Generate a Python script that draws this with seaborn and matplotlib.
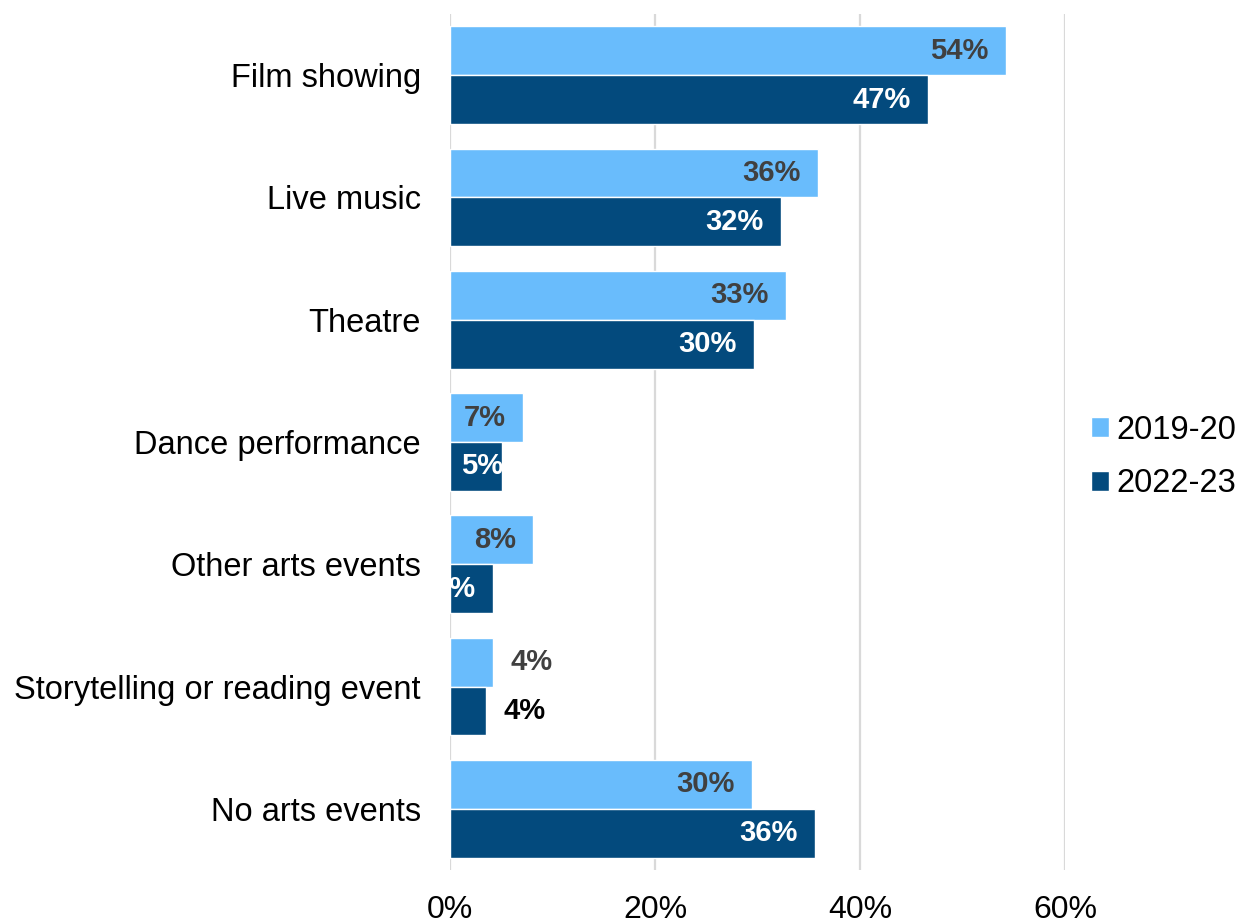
import matplotlib
matplotlib.use("Agg")
import matplotlib.pyplot as plt
import seaborn as sns
import pandas as pd

# Share of respondents attending each type of arts event
categories = [
    "Film showing",
    "Live music",
    "Theatre",
    "Dance performance",
    "Other arts events",
    "Storytelling or reading event",
    "No arts events",
]
series = ["2019-20", "2022-23"]
values_2019 = [54.2, 35.9, 32.8, 7.1, 8.1, 4.2, 29.5]
values_2022 = [46.6, 32.3, 29.7, 5.1, 4.2, 3.5, 35.6]
x_ticks = [0, 20, 40, 60]
x_tick_labels = ["0%", "20%", "40%", "60%"]

colors = {"2019-20": "#69BCFC", "2022-23": "#034A7D"}
label_colors = {"2019-20": "#404040", "2022-23": "#FFFFFF"}
outside_label_colors = {"2019-20": "#404040", "2022-23": "#000000"}

df = pd.DataFrame({
    "category": categories * 2,
    "year": [series[0]] * len(categories) + [series[1]] * len(categories),
    "value": values_2019 + values_2022,
})

sns.set_theme(style="white")
plt.rcParams["font.family"] = ["Liberation Sans", "DejaVu Sans"]

fig = plt.figure(figsize=(12.4, 9.24), dpi=100)
ax = fig.add_axes([450 / 1240, 54 / 924, 615 / 1240, 856 / 924])

sns.barplot(
    data=df, y="category", x="value", hue="year", order=categories,
    hue_order=series, palette=colors, orient="h", width=0.8,
    saturation=1, ax=ax, legend=True, zorder=3,
)

ax.set_xlim(0, 60)
ax.set_ylim(len(categories) - 0.5, -0.5)
ax.set_xticks(x_ticks)
ax.set_xticklabels(x_tick_labels, fontsize=23)
ax.set_xlabel("")
ax.set_ylabel("")
ax.tick_params(axis="y", length=0, pad=21, labelsize=23.5, colors="black")
ax.tick_params(axis="x", length=0, pad=18, colors="black")
for spine in ax.spines.values():
    spine.set_visible(False)
ax.grid(axis="x", color="#D9D9D9", linewidth=1.6, zorder=0)
ax.grid(axis="y", visible=False)
ax.set_axisbelow(True)

# Value labels: inside the bar end, except short bars labelled outside
outside_rows = {"Storytelling or reading event"}
inside_offsets = {("Dance performance", "2022-23"): 1}
for container, year in zip(ax.containers, series):
    for bar, cat in zip(container, categories):
        w = bar.get_width()
        y = bar.get_y() + bar.get_height() / 2
        text = f"{w:.0f}%"
        if cat in outside_rows:
            ax.annotate(text, (w, y), xytext=(12.5, 0), textcoords="offset points",
                        ha="left", va="center", fontsize=21, fontweight="bold",
                        color=outside_label_colors[year], zorder=5,
                        annotation_clip=False)
        else:
            dx = inside_offsets.get((cat, year), -12.5)
            ax.annotate(text, (w, y), xytext=(dx, 0), textcoords="offset points",
                        ha="right", va="center", fontsize=21, fontweight="bold",
                        color=label_colors[year], zorder=5,
                        annotation_clip=False)

ax.legend(
    loc="center left", bbox_to_anchor=(1091 / 1240, 467 / 924),
    bbox_transform=fig.transFigure, frameon=False, fontsize=23.5,
    handlelength=0.55, handleheight=0.55, handletextpad=0.22,
    labelspacing=0.7, borderpad=0, borderaxespad=0, title=None,
    labelcolor="black",
)

fig.savefig("out.png", dpi=100, facecolor="white")
